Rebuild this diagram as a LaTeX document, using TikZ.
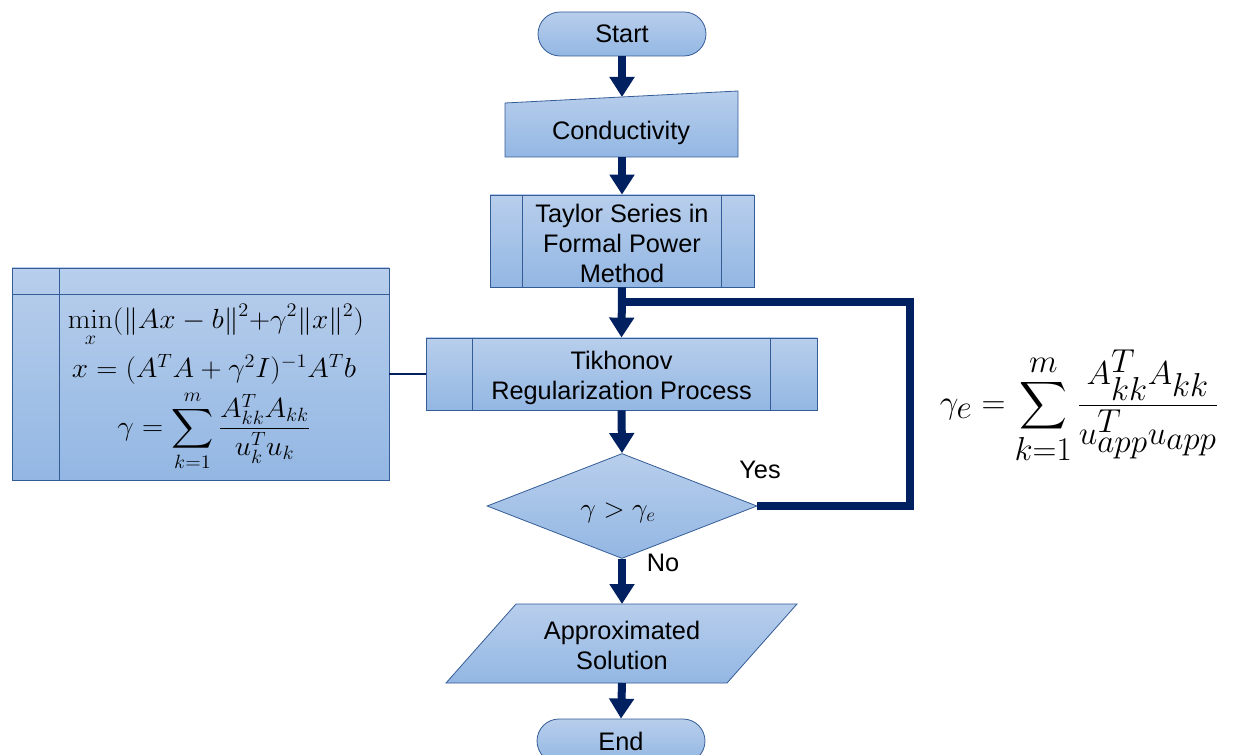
\documentclass[tikz,border=0pt]{standalone}
\usepackage[no-math]{fontspec}
\setmainfont{Liberation Sans}
\usepackage{amsmath}
\usepackage{graphicx}
\usetikzlibrary{arrows.meta,shapes.geometric}

\definecolor{fillTop}{RGB}{184,206,236}
\definecolor{fillBot}{RGB}{147,183,227}
\definecolor{edgeBlue}{RGB}{52,92,150}
\definecolor{flowBlue}{RGB}{0,32,96}

\newcommand{\widemath}[1]{\scalebox{1.06}[1]{#1}}

\tikzset{
  block/.style={top color=fillTop,bottom color=fillBot,draw=edgeBlue,line width=0.6pt},
  txt/.style={font=\fontsize{19}{22.5}\selectfont,align=center,inner sep=0pt},
  flow/.style={draw=flowBlue,line width=6pt,-{Triangle[width=18pt,length=15pt]}},
  loopline/.style={draw=flowBlue,line width=6pt,line join=miter},
  thin link/.style={draw=flowBlue,line width=1.4pt},
  eqfont/.style={font=\fontsize{21}{25}\selectfont,inner sep=0pt},
}

\begin{document}
\begin{tikzpicture}[x=0.75pt,y=-0.75pt]
\useasboundingbox (0,0) rectangle (1241,755);

% terminals
\node[block,rounded corners=16.5pt,minimum width=126pt,minimum height=33pt,txt] (start) at (622,34) {Start};
\node[block,rounded corners=16.5pt,minimum width=126pt,minimum height=33pt,txt] (end) at (621,741) {End};

% manual input
\shade[block] (505,103) -- (738,91) -- (738,157) -- (505,157) -- cycle;
\node[txt] (cond) at (621,133) {Conductivity};
\coordinate (condTop) at (622,97);
\coordinate (condBot) at (622,157);

% predefined process: Taylor series
\node[block,minimum width=198pt,minimum height=69pt] (tay) at (622,241) {};
\draw[edgeBlue,line width=0.6pt] ([xshift=24.75pt]tay.north west) -- ([xshift=24.75pt]tay.south west);
\draw[edgeBlue,line width=0.6pt] ([xshift=-24.75pt]tay.north east) -- ([xshift=-24.75pt]tay.south east);
\node[txt] at (622,243) {Taylor Series in\\Formal Power\\Method};

% predefined process: Tikhonov
\node[block,minimum width=293.25pt,minimum height=54pt] (tik) at (621.5,374) {};
\draw[edgeBlue,line width=0.6pt] ([xshift=35.25pt]tik.north west) -- ([xshift=35.25pt]tik.south west);
\draw[edgeBlue,line width=0.6pt] ([xshift=-35.25pt]tik.north east) -- ([xshift=-35.25pt]tik.south east);
\node[txt] at (621.5,378) {Tikhonov\\Regularization Process};

% internal storage box with formulas
\node[block,minimum width=282.75pt,minimum height=159pt] (eqbox) at (200.5,374) {};
\draw[edgeBlue,line width=0.6pt] (59,268) -- (59,480);
\draw[edgeBlue,line width=0.6pt] (12,294) -- (389,294);
\node[eqfont] at (216,326) {\widemath{$\displaystyle\min_x(\|Ax-b\|^2{+}\gamma^2\|x\|^2)$}};
\node[eqfont] at (214,369) {\widemath{$x=(A^TA+\gamma^2I)^{-1}A^Tb$}};
\node[eqfont] at (214,431) {\widemath{$\displaystyle\gamma=\sum_{k=1}^{m}\frac{A_{kk}^TA_{kk}}{u_k^Tu_k}$}};

% decision
\node[diamond,block,minimum width=202.5pt,minimum height=78.75pt,inner sep=0pt] (dec) at (622,506) {};
\node[eqfont] at (618,513) {$\gamma>\gamma_e$};

% output
\shade[block] (516,604) -- (797,604) -- (727,683) -- (446,683) -- cycle;
\node[txt] (sol) at (622,645) {Approximated\\Solution};
\coordinate (solTop) at (622,604);
\coordinate (solBot) at (622,683);

% threshold formula
\node[font=\fontsize{33}{38}\selectfont,inner sep=0pt] (thr) at (1079,407)
  {$\displaystyle\gamma_e=\sum_{k=1}^{m}\frac{A_{kk}^TA_{kk}}{u_{app}^Tu_{app}}$};

% connectors
\draw[flow] (start.south) -- (condTop);
\draw[flow] (condBot) -- (tay.north);
\draw[flow] (tay.south) -- (tik.north);
\draw[flow] (tik.south) -- (dec.north);
\draw[flow] (dec.south) -- (solTop);
\draw[flow] (solBot) -- (end.north);
\coordinate (join) at (622,302);
\draw[loopline] (dec.east) -- ++(153,0) |- (join);
\draw[thin link] (eqbox.east) -- (tik.west);

% branch labels
\node[txt] at (760,470) {Yes};
\node[txt] at (663,563) {No};
\end{tikzpicture}
\end{document}
